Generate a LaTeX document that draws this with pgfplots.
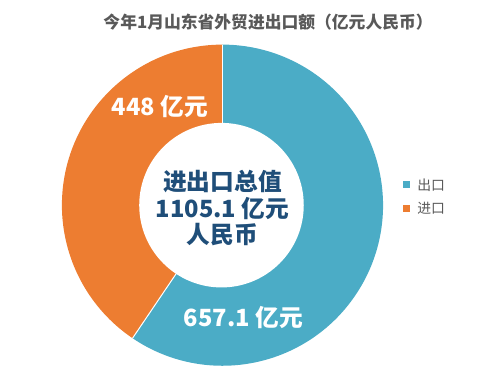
\documentclass[border=0pt]{standalone}
\usepackage{pgfplots}
\usepackage{pgfplotstable}
\usepackage{fontspec}
\pgfplotsset{compat=1.18}
\setmainfont{Noto Sans CJK SC}
\definecolor{expblue}{HTML}{4BACC6}
\definecolor{imporange}{HTML}{ED7D31}
\definecolor{centertext}{HTML}{1F4E79}
\definecolor{titlegray}{HTML}{595959}

\pgfplotstableread{
kind value
export 657.1
import 448
}\tradetable

\begin{document}
\pgfplotstablegetelem{0}{value}\of\tradetable \let\exportv\pgfplotsretval
\pgfplotstablegetelem{1}{value}\of\tradetable \let\importv\pgfplotsretval
\pgfmathsetmacro{\importfrac}{\importv/(\importv+\exportv)}
\pgfmathsetmacro{\splitangle}{90+360*\importfrac}
\begin{tikzpicture}
\begin{axis}[
  width=500bp, height=375bp, scale only axis,
  xmin=0, xmax=500, ymin=0, ymax=375, y dir=reverse,
  axis lines=none, ticks=none, clip=false,
]
\path (axis cs:0,0) rectangle (axis cs:500,375);
% import slice (orange): from top, counter-clockwise
\fill[imporange] (axis cs:220,207) -- ++(90:162bp) arc[start angle=90, end angle=\splitangle, radius=162bp] -- cycle;
% export slice (blue)
\fill[expblue] (axis cs:220,207) -- ++(\splitangle:162bp) arc[start angle=\splitangle, end angle=450, radius=162bp] -- cycle;
\draw[white, line width=1bp] (axis cs:220,207) -- ++(90:162bp);
\draw[white, line width=1bp] (axis cs:220,207) -- ++(\splitangle:162bp);
\fill[white] (axis cs:219,207) circle[radius=83bp];

\node[font=\bfseries\fontsize{17}{20}\selectfont, text=titlegray] at (axis cs:266,22) {今年1月山东省外贸进出口额（亿元人民币）};

\node[font=\bfseries\fontsize{24}{27}\selectfont, text=white] at (axis cs:157,107) {448 亿元};
\node[font=\bfseries\fontsize{24}{27}\selectfont, text=white] at (axis cs:241,320) {657.1 亿元};

\node[font=\bfseries\fontsize{24}{27}\selectfont, text=centertext, align=center] at (axis cs:220,210) {进出口总值\\1105.1 亿元\\人民币};

\fill[expblue] (axis cs:402,183) rectangle (axis cs:409,190);
\node[anchor=west, font=\fontsize{14}{16}\selectfont, text=titlegray] at (axis cs:413,186.5) {出口};
\fill[imporange] (axis cs:402,207) rectangle (axis cs:409,214);
\node[anchor=west, font=\fontsize{14}{16}\selectfont, text=titlegray] at (axis cs:413,210.5) {进口};
\end{axis}
\end{tikzpicture}
\end{document}
